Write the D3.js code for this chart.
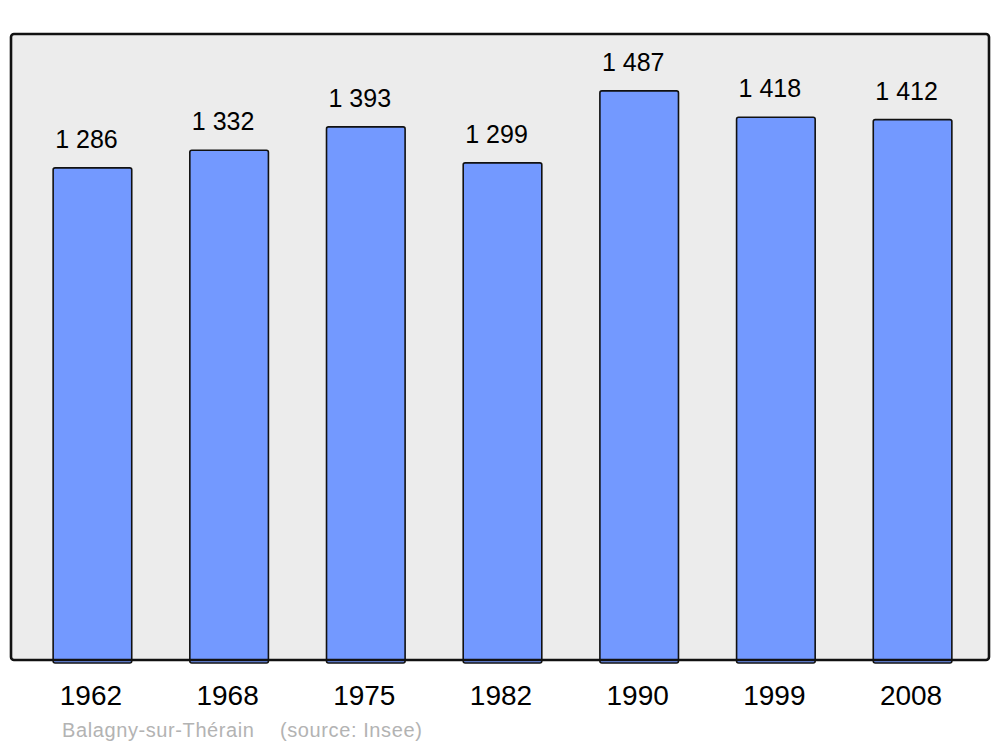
<!DOCTYPE html>
<html lang="fr">
<head>
    <meta charset="UTF-8">
    <title>Balagny-sur-Thérain population</title>
    <style>
        body { margin: 0; background: #fff; }
        svg { display: block; font-family: 'Liberation Sans', Arial, sans-serif; }
    </style>
</head>
<body>
    <script src="https://cdn.jsdelivr.net/npm/d3@7"></script>
    <script>
        const svg_w = 1000;
        const svg_h = 747;

        // population par recensement
        const years = ['1962', '1968', '1975', '1982', '1990', '1999', '2008'];
        const population = [1286, 1332, 1393, 1299, 1487, 1418, 1412];
        const town = 'Balagny-sur-Thérain';
        const source = '(source: Insee)';

        const data = years.map((y, i) => ({ year: y, pop: population[i] }));

        const frame = { left: 11, top: 34, right: 989, bottom: 660 };

        const fmt = v => d3.format(',')(v).replace(/,/g, ' ');

        const x = d3.scaleBand()
            .domain(years)
            .range([13.5, 991.5])
            .paddingInner(0.425)
            .paddingOuter(0.29);

        const y = d3.scaleLinear()
            .domain([0, d3.max(population) * 1.1])
            .range([frame.bottom, frame.top]);

        const svg = d3.select('body')
            .append('svg')
            .attr('width', svg_w)
            .attr('height', svg_h);

        svg.append('rect')
            .attr('x', frame.left)
            .attr('y', frame.top)
            .attr('width', frame.right - frame.left)
            .attr('height', frame.bottom - frame.top)
            .attr('rx', 3)
            .attr('fill', '#ececec');

        svg.selectAll('rect.bar')
            .data(data)
            .enter()
            .append('rect')
            .attr('class', 'bar')
            .attr('x', d => x(d.year))
            .attr('y', d => y(d.pop))
            .attr('width', x.bandwidth())
            .attr('height', d => y(0) - y(d.pop) + 3)
            .attr('rx', 2)
            .attr('fill', '#7399ff')
            .attr('stroke', '#111')
            .attr('stroke-width', 1.6);

        // cadre par-dessus les barres
        svg.append('rect')
            .attr('x', frame.left)
            .attr('y', frame.top)
            .attr('width', frame.right - frame.left)
            .attr('height', frame.bottom - frame.top)
            .attr('rx', 3)
            .attr('fill', 'none')
            .attr('stroke', '#111')
            .attr('stroke-width', 2.6);

        svg.selectAll('text.val')
            .data(data)
            .enter()
            .append('text')
            .attr('class', 'val')
            .text(d => fmt(d.pop))
            .attr('x', d => x(d.year) + x.bandwidth() / 2 - 6)
            .attr('y', d => y(d.pop) - 20)
            .attr('text-anchor', 'middle')
            .attr('font-size', '25px')
            .attr('fill', '#000');

        svg.selectAll('text.year')
            .data(data)
            .enter()
            .append('text')
            .attr('class', 'year')
            .text(d => d.year)
            .attr('x', d => x(d.year) + x.bandwidth() / 2 - 1.5)
            .attr('y', 705)
            .attr('text-anchor', 'middle')
            .attr('font-size', '28px')
            .attr('fill', '#000');

        svg.append('text')
            .text(town)
            .attr('x', 62)
            .attr('y', 737)
            .attr('font-size', '20px')
            .attr('letter-spacing', '0.6px')
            .attr('fill', '#b3b3b3');

        svg.append('text')
            .text(source)
            .attr('x', 280)
            .attr('y', 737)
            .attr('font-size', '20px')
            .attr('letter-spacing', '0.6px')
            .attr('fill', '#b3b3b3');
    </script>
</body>
</html>
